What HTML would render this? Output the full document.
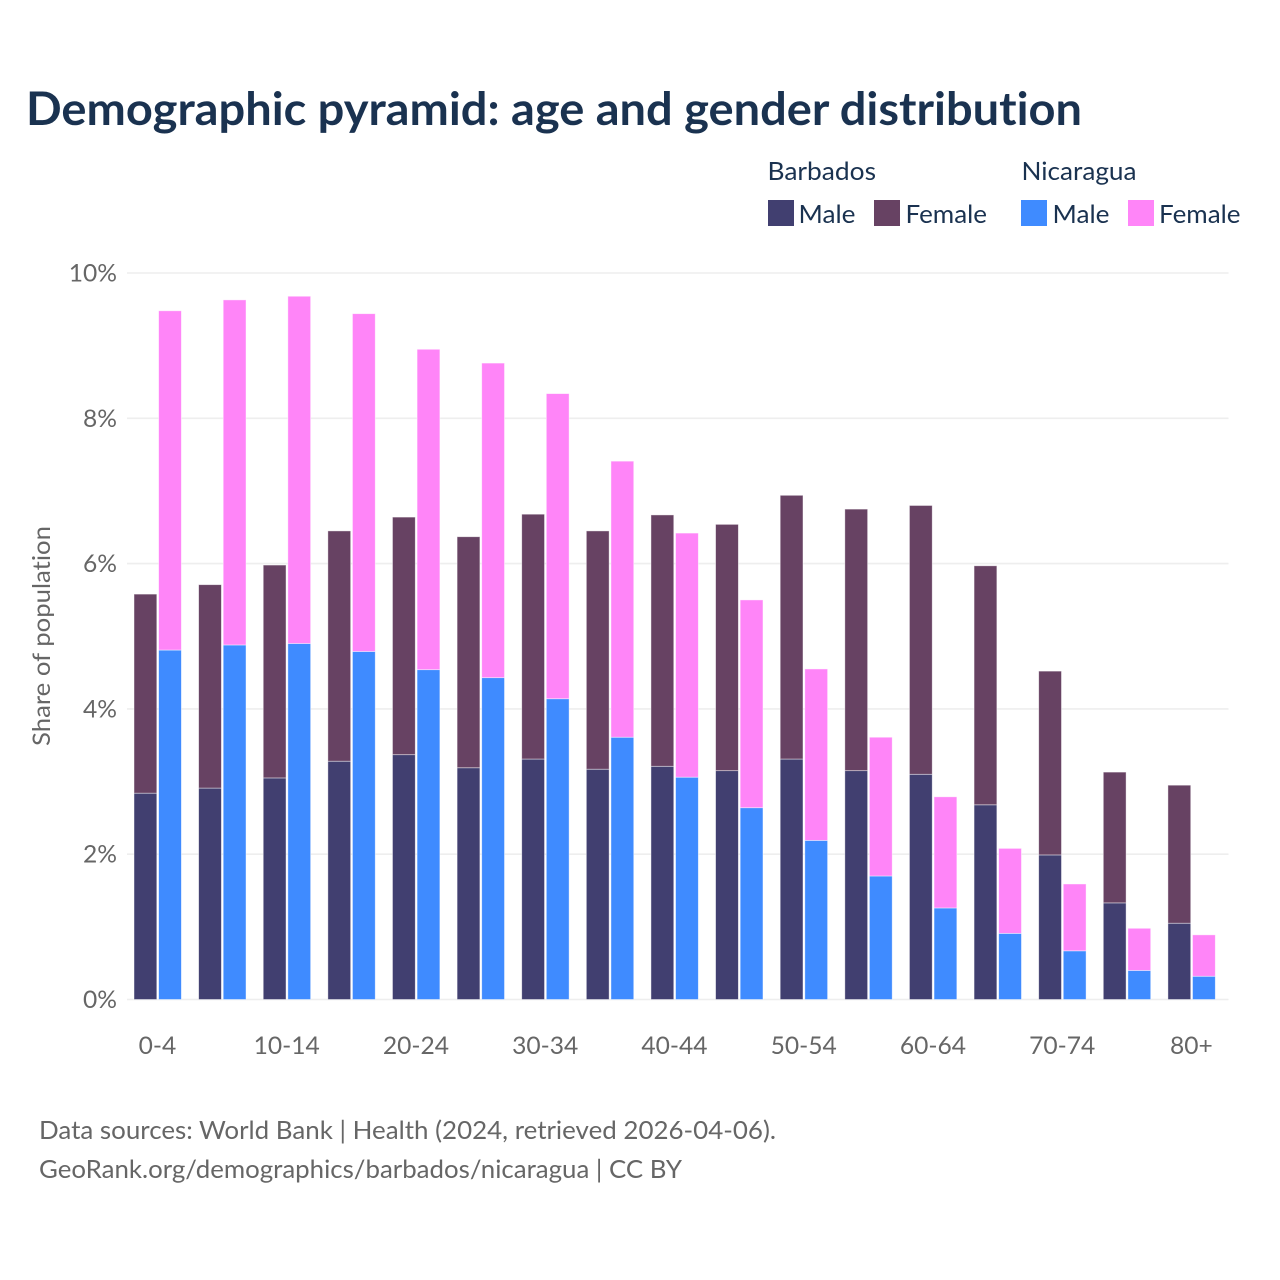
<!DOCTYPE html>
<html lang="en">
<head>
<meta charset="utf-8">
<title>Demographic pyramid</title>
<style>
html,body{margin:0;padding:0;background:#fff;}
svg{display:block;font-family:"Lato","Carlito","Liberation Sans",sans-serif;font-variant-ligatures:none;}
</style>
</head>
<body>
<svg id="chart" width="1280" height="1280" viewBox="0 0 1280 1280" xmlns="http://www.w3.org/2000/svg">
<text x="26" y="125" font-size="46" font-weight="700" fill="#1a3250" textLength="1056" lengthAdjust="spacingAndGlyphs">Demographic pyramid: age and gender distribution</text>
<g>
<text x="767.5" y="180" font-size="25" fill="#1a3250" textLength="108.5" lengthAdjust="spacingAndGlyphs">Barbados</text>
<text x="1021.5" y="180" font-size="25" fill="#1a3250" textLength="115" lengthAdjust="spacingAndGlyphs">Nicaragua</text>
<rect x="768" y="200" width="26" height="26" fill="#413f70"/>
<text x="798.5" y="223" font-size="25" fill="#1a3250" textLength="57" lengthAdjust="spacingAndGlyphs">Male</text>
<rect x="874" y="200" width="26" height="26" fill="#674263"/>
<text x="905.5" y="223" font-size="25" fill="#1a3250" textLength="81.5" lengthAdjust="spacingAndGlyphs">Female</text>
<rect x="1021" y="200" width="26" height="26" fill="#3f8bff"/>
<text x="1052.5" y="223" font-size="25" fill="#1a3250" textLength="57" lengthAdjust="spacingAndGlyphs">Male</text>
<rect x="1128" y="200" width="26" height="26" fill="#ff85f8"/>
<text x="1159" y="223" font-size="25" fill="#1a3250" textLength="81.5" lengthAdjust="spacingAndGlyphs">Female</text>
</g>
<g id="grid"></g>
<g id="bars"></g>
<g id="yticks"></g>
<g id="xticks"></g>
<text transform="translate(50,636) rotate(-90)" text-anchor="middle" font-size="24" fill="#666" textLength="220" lengthAdjust="spacingAndGlyphs">Share of population</text>
<text x="39" y="1139" font-size="25" fill="#666" textLength="737" lengthAdjust="spacingAndGlyphs">Data sources: World Bank | Health (2024, retrieved 2026-04-06).</text>
<text x="39" y="1178" font-size="25" fill="#666" textLength="643" lengthAdjust="spacingAndGlyphs">GeoRank.org/demographics/barbados/nicaragua | CC BY</text>
</svg>
<script>
const ageGroups = ['0-4','5-9','10-14','15-19','20-24','25-29','30-34','35-39','40-44','45-49','50-54','55-59','60-64','65-69','70-74','75-79','80+'];
const shownAgeLabels = ['0-4','10-14','20-24','30-34','40-44','50-54','60-64','70-74','80+'];
const barbadosMale = [2.84,2.91,3.05,3.28,3.37,3.19,3.31,3.17,3.21,3.15,3.31,3.15,3.10,2.68,1.99,1.33,1.05];
const barbadosFemale = [2.74,2.80,2.93,3.17,3.27,3.18,3.37,3.28,3.46,3.39,3.63,3.60,3.70,3.29,2.53,1.80,1.90];
const nicaraguaMale = [4.81,4.88,4.90,4.79,4.54,4.43,4.14,3.61,3.06,2.64,2.19,1.70,1.26,0.91,0.67,0.40,0.32];
const nicaraguaFemale = [4.67,4.75,4.78,4.65,4.41,4.33,4.20,3.80,3.36,2.86,2.36,1.91,1.53,1.17,0.92,0.58,0.57];
const yTicks = [0,2,4,6,8,10];

const NS = 'http://www.w3.org/2000/svg';
const yScale = function (v) { return 999.5 - v * 72.65; };
const xScale = function (i) { return 134 + i * 64.62; };
const barWidth = 22.8;
const barGap = 24.6;

function make(tag, props, parent) {
  const el = document.createElementNS(NS, tag);
  Object.keys(props).forEach(function (k) { el.setAttribute(k, props[k]); });
  parent.appendChild(el);
  return el;
}

const gridG = document.getElementById('grid');
const yG = document.getElementById('yticks');
yTicks.forEach(function (t) {
  const line = make('line', {x1: 127, x2: 1228.5, y1: yScale(t), y2: yScale(t), stroke: '#eeeeee', 'stroke-width': 1.6}, gridG);
  
  
  const label = make('text', {x: 117, y: yScale(t) + 8.5, 'text-anchor': 'end', 'font-size': 24.6, fill: '#666'}, yG);
  
  
  label.textContent = t + '%';
});

const barsG = document.getElementById('bars');
function drawBar(x, y0, y1, color) {
  const r = make('rect', {x: x, y: y1, width: barWidth, height: Math.max(0, y0 - y1), fill: color, stroke: '#ffffff', 'stroke-opacity': 0.55, 'stroke-width': 0.8}, barsG);
  
  
}
ageGroups.forEach(function (g, i) {
  const x = xScale(i);
  drawBar(x, yScale(0), yScale(barbadosMale[i]), '#413f70');
  drawBar(x, yScale(barbadosMale[i]), yScale(barbadosMale[i] + barbadosFemale[i]), '#674263');
  drawBar(x + barGap, yScale(0), yScale(nicaraguaMale[i]), '#3f8bff');
  drawBar(x + barGap, yScale(nicaraguaMale[i]), yScale(nicaraguaMale[i] + nicaraguaFemale[i]), '#ff85f8');
  if (shownAgeLabels.indexOf(g) !== -1) {
    const label = make('text', {x: x + 23.5, y: 1054, 'text-anchor': 'middle', 'font-size': 24.6, fill: '#666'}, document.getElementById('xticks'));
    
    
    label.textContent = g;
  }
});
</script>
</body>
</html>
